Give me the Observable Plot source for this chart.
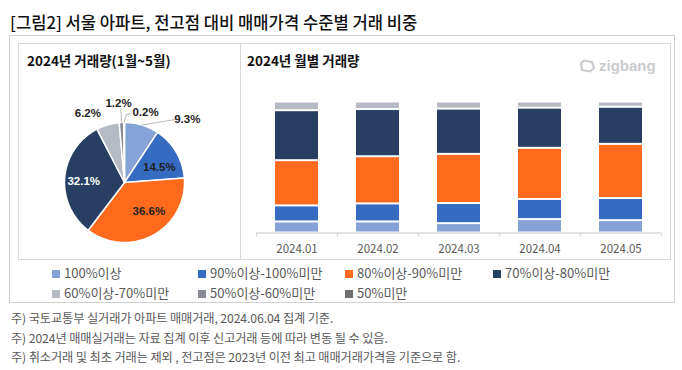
<!DOCTYPE html>
<html><head><meta charset="utf-8">
<script src="https://cdn.jsdelivr.net/npm/d3@7"></script>
<script src="https://cdn.jsdelivr.net/npm/@observablehq/plot@0.6"></script>
<style>
body{margin:0;background:#fff;font-family:"Noto Sans CJK KR","Noto Sans",sans-serif;}
#root{position:relative;width:682px;height:370px;overflow:hidden;background:#fff;}
.a{position:absolute;white-space:nowrap;}
.box{box-sizing:border-box;}
.lg{position:absolute;font-size:13px;color:#595959;line-height:16px;white-space:nowrap;}
.lg i{display:inline-block;width:8px;height:8px;margin-right:4px;vertical-align:0px;}
.fn{position:absolute;left:11px;font-size:12.2px;color:#595959;line-height:14px;white-space:nowrap;letter-spacing:-0.1px;}
</style></head><body><div id="root">
<div class="a" style="left:10px;top:12px;font-size:16.6px;line-height:20px;color:#111;font-weight:500;">[그림2] 서울 아파트, 전고점 대비 매매가격 수준별 거래 비중</div>
<div class="a box" style="left:9px;top:35px;width:666px;height:268px;border:1px solid #d0d0d0;"></div>
<div class="a box" style="left:18px;top:43px;width:223px;height:217px;border:1px solid #d9d9d9;"></div>
<div class="a box" style="left:240px;top:43px;width:431px;height:217px;border:1px solid #d9d9d9;"></div>
<div class="a" style="left:27px;top:52px;font-size:13.5px;font-weight:bold;line-height:16px;color:#111;">2024년 거래량(1월~5월)</div>
<div class="a" style="left:247px;top:52px;font-size:13.5px;font-weight:bold;line-height:16px;color:#111;">2024년 월별 거래량</div>
<div class="a" style="left:578px;top:57px;line-height:18px;color:#c9cbcf;font-family:'Liberation Sans',sans-serif;font-weight:bold;font-size:15px;">
<svg width="18" height="14" viewBox="0 0 18 14" style="vertical-align:-2px;margin-right:3px"><path d="M3 4 L6 1.5 L14 3 L16 9 L12 12.5 L4 11 Z" fill="none" stroke="#c9cbcf" stroke-width="2.2" stroke-linejoin="round"/></svg>zigbang</div>
<div id="pie" class="a" style="left:19px;top:70px;"></div>
<div id="bars" class="a" style="left:241px;top:70px;"></div>
<div id="legend"></div>
<div class="fn" style="top:311px;">주) 국토교통부 실거래가 아파트 매매거래, 2024.06.04 집계 기준.</div>
<div class="fn" style="top:331px;">주) 2024년 매매실거래는 자료 집계 이후 신고거래 등에 따라 변동 될 수 있음.</div>
<div class="fn" style="top:350px;">주) 취소거래 및 최초 거래는 제외 , 전고점은 2023년 이전 최고 매매거래가격을 기준으로 함.</div>
</div>
<script>
// ---- data ----
const categories = ["100%이상","90%이상-100%미만","80%이상-90%미만","70%이상-80%미만","60%이상-70%미만","50%이상-60%미만","50%미만"];
const colors = ["#86a3d7","#356bc0","#ff6a1d","#283f63","#b5bac5","#868b96","#6f6f6f"];
const pieValues = [9.3,14.5,36.6,32.1,6.2,1.2,0.2];
const pieLabels = ["9.3%","14.5%","36.6%","32.1%","6.2%","1.2%","0.2%"];
const months = ["2024.01","2024.02","2024.03","2024.04","2024.05"];
const share100 = [8.4,8.4,7.1,10.2,9.4];
const share90 = [12.2,13.7,15.3,15.3,16.8];
const share80 = [34.4,35.9,37.4,38.9,41.2];
const share70 = [38.0,35.9,34.4,30.5,28.2];
const share60 = [6.6,5.7,5.4,4.7,4.0];
const share50 = [0.3,0.3,0.3,0.3,0.3];
const shareUnder50 = [0.1,0.1,0.1,0.1,0.1];

// ---- legend ----
const legendPos = [[52,265],[198,265],[345,265],[493,265],[52,285],[198,285],[345,285]];
const lg = document.getElementById("legend");
categories.forEach((c,i)=>{
  const d=document.createElement("div");d.className="lg";
  d.style.left=legendPos[i][0]+"px";d.style.top=legendPos[i][1]+"px";
  d.innerHTML=`<i style="background:${colors[i]}"></i>${c}`;lg.appendChild(d);
});

const color = {domain: categories, range: colors};

// ---- pie ----
const total = d3.sum(pieValues);
let cum = 0;
const slices = pieValues.map((v,i)=>{const a0=cum/total*2*Math.PI; cum+=v; const a1=cum/total*2*Math.PI; return {i,cat:categories[i],a0,a1,mid:(a0+a1)/2};});
const piePts = [];
slices.forEach(s=>{
  piePts.push({cat:s.cat,x:0,y:0});
  const n=Math.max(2,Math.ceil((s.a1-s.a0)/(Math.PI/180)));
  for(let k=0;k<=n;k++){const a=s.a0+(s.a1-s.a0)*k/n; piePts.push({cat:s.cat,x:Math.sin(a),y:Math.cos(a)});}
  piePts.push({cat:s.cat,x:0,y:0});
});
// label layout (angle in degrees clockwise from top, radius relative to pie)
const labelLayout = [{a:45,r:1.48},{a:67,r:0.63},{a:140,r:0.63},{a:271,r:0.68,white:true},{a:332,r:1.3},{a:355.7,r:1.32},{a:16.7,r:1.22}];
const labels = slices.map(s=>{const L=labelLayout[s.i];const a=L.a*Math.PI/180;return {text:pieLabels[s.i],x:L.r*Math.sin(a),y:L.r*Math.cos(a),white:!!L.white};});
const leaders = [
  {id:0,pts:[[Math.sin(slices[0].mid),Math.cos(slices[0].mid)],[0.85,1.05]]},
  {id:5,pts:[[Math.sin(slices[5].mid),Math.cos(slices[5].mid)],[Math.sin(slices[5].mid)-0.01,1.23]]},
  {id:6,pts:[[Math.sin(slices[6].mid),Math.cos(slices[6].mid)],[0.03,1.13],[0.11,1.15]]}
].flatMap(l=>l.pts.map(p=>({id:l.id,x:p[0],y:p[1]})));

const pie = Plot.plot({
  width:220,height:188,margin:0,
  style:{background:"transparent",overflow:"visible"},
  x:{domain:[-1,1],range:[45,165],axis:null},
  y:{domain:[-1,1],range:[172,52],axis:null},
  color,
  marks:[
    Plot.line(piePts,{x:"x",y:"y",z:"cat",fill:"cat",stroke:"white",strokeWidth:1.5,strokeLinejoin:"round",curve:"linear"}),
    Plot.line(leaders,{x:"x",y:"y",z:"id",stroke:"#a6a6a6",strokeWidth:0.8}),
    Plot.text(labels.filter(d=>!d.white),{x:"x",y:"y",text:"text",fill:"#222",fontSize:11.5,fontWeight:"bold",fontFamily:"Liberation Sans, Arial, sans-serif"}),
    Plot.text(labels.filter(d=>d.white),{x:"x",y:"y",text:"text",fill:"white",fontSize:11.5,fontWeight:"bold",fontFamily:"Liberation Sans, Arial, sans-serif"})
  ]
});
document.getElementById("pie").appendChild(pie);

// ---- bars ----
const series = [share100,share90,share80,share70,share60,share50,shareUnder50];
const barRows = [];
months.forEach((m,j)=>series.forEach((s,i)=>barRows.push({month:m,cat:categories[i],value:s[j]})));
const bars = Plot.plot({
  width:429,height:188,marginLeft:15,marginRight:9,marginTop:31,marginBottom:25.5,
  style:{background:"transparent",overflow:"visible"},
  x:{domain:months,paddingInner:0.47,paddingOuter:0.235,axis:null},
  y:{domain:[0,100],axis:null},
  color,
  marks:[
    Plot.barY(barRows,{x:"month",y:"value",fill:"cat",order:categories,insetTop:1,insetBottom:1}),
    Plot.ruleY([0],{stroke:"#d9d9d9",strokeWidth:1.3}),
    Plot.ruleX(months,{x:d=>d,dx:-40.5,y1:0,y2:-3,stroke:"#d9d9d9",strokeWidth:1.3}),
    Plot.ruleX(months.slice(-1),{x:d=>d,dx:40.5,y1:0,y2:-3,stroke:"#d9d9d9",strokeWidth:1.3}),
    Plot.text(months,{x:d=>d,y:0,dy:16.5,text:d=>d,fill:"#595959",fontSize:11.5,fontFamily:"Noto Sans CJK KR, sans-serif"})
  ]
});
document.getElementById("bars").appendChild(bars);
</script>
</body></html>
